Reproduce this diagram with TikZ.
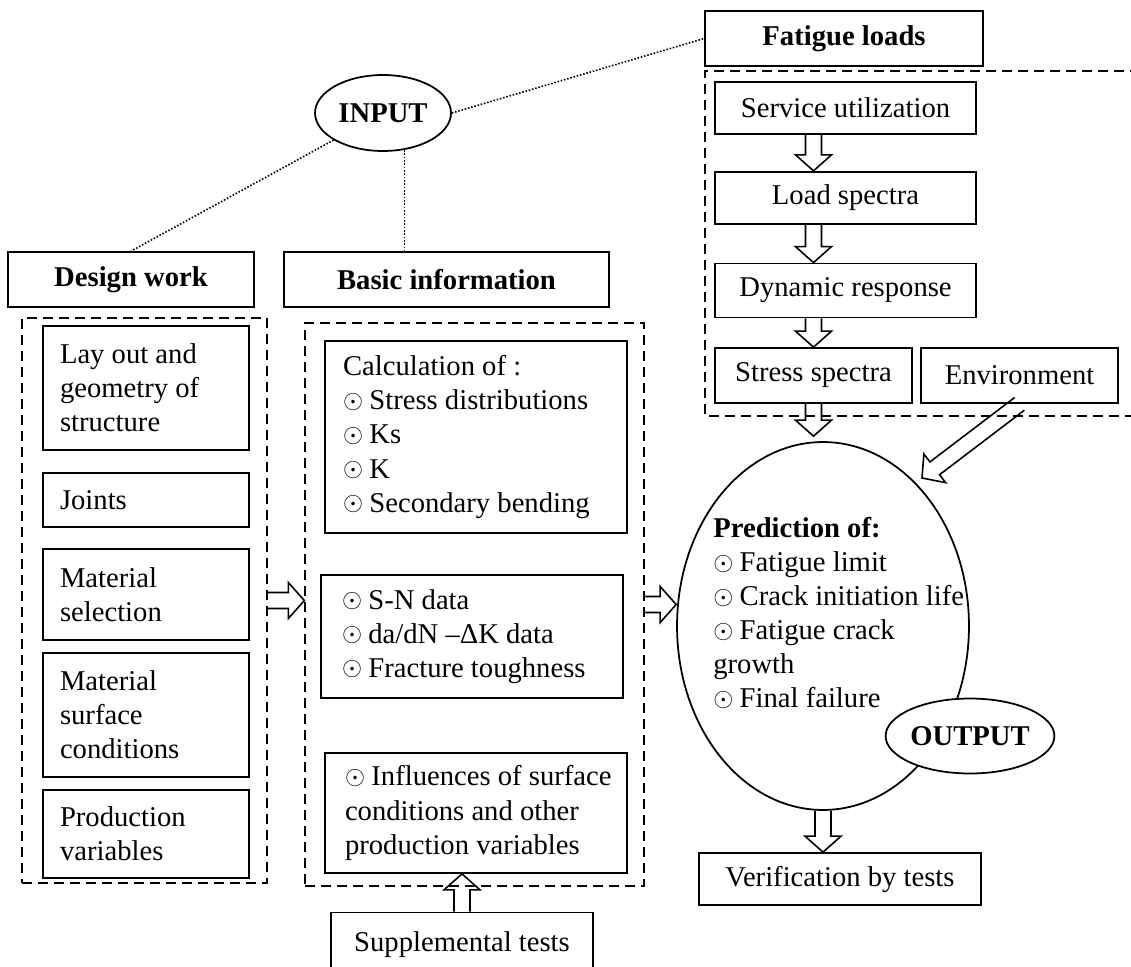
\documentclass[tikz,border=0pt]{standalone}
\usepackage{fontspec}
\setmainfont{Liberation Serif}
\usetikzlibrary{shapes.geometric,calc,positioning}

\newcommand\bul{\raisebox{0.12ex}{\scalebox{0.85}{$\odot$}}\hspace{0.22em}}
% hollow block arrow from #1 to #2
\newcommand\hollow[2]{%
  \coordinate (hA) at (#1);
  \coordinate (hB) at (#2);
  \coordinate (hH) at ($(hB)!0.32cm!(hA)$);
  \draw[line width=0.9pt, line join=miter] ($(hA)!0.16cm!90:(hB)$) -- ($(hH)!0.16cm!90:(hB)$)
    -- ($(hH)!0.36cm!90:(hB)$) -- (hB) -- ($(hH)!0.36cm!-90:(hB)$)
    -- ($(hH)!0.16cm!-90:(hB)$) -- ($(hA)!0.16cm!-90:(hB)$);}

\begin{document}
\begin{tikzpicture}[x=0.02cm, y=-0.02cm, font=\fontsize{16.3}{19.4}\selectfont,
  box/.style = {draw, line width=1pt},
  txt/.style = {box, align=flush left},
  head/.style = {box, font=\fontsize{16.3}{19.4}\selectfont\bfseries},
  frame/.style = {draw, line width=0.8pt, dash pattern=on 0.2cm off 0.12cm},
  oval/.style = {draw, ellipse, line width=1pt, inner sep=0pt},
  link/.style = {densely dotted, line width=0.9pt}]
\useasboundingbox (0,0) rectangle (1131,966);

% input side
\node[oval, font=\fontsize{16.3}{19.4}\selectfont\bfseries, minimum width=2.72cm, minimum height=1.52cm] (in) at (383,113) {INPUT};
\node[head, minimum width=4.92cm, minimum height=1.1cm] (dw) at (131,279.5) {Design work};
\node[head, minimum width=6.5cm, minimum height=1.1cm] (bi) at (446.5,279.5) {Basic information};
\node[head, minimum width=5.56cm, minimum height=1.1cm] (fl) at (844,38.5) {Fatigue loads};
\draw[link] (in) -- (dw.north);
\draw[link] (in.-60) -- (in.-60 |- bi.north);
\draw[link] (in.east) -- (fl.west);

% design work
\node[frame, minimum width=4.9cm, minimum height=11.3cm] (dwf) at (144.5,600.5) {};
\node[txt, minimum width=4.12cm, minimum height=2.48cm, text width=3.44cm] (lay) at (146,388) {Lay out and\\geometry of\\structure};
\node[txt, minimum width=4.12cm, minimum height=1.08cm, text width=3.44cm] (jt) at (146,500) {Joints};
\node[txt, minimum width=4.12cm, minimum height=1.82cm, text width=3.44cm] (ms) at (146,594.5) {Material\\selection};
\node[txt, minimum width=4.12cm, minimum height=2.48cm, text width=3.44cm] (msc) at (146,715) {Material\\surface\\conditions};
\node[txt, minimum width=4.12cm, minimum height=1.76cm, text width=3.44cm] (pv) at (146,834) {Production\\variables};

% basic information
\node[frame, minimum width=6.78cm, minimum height=11.26cm] (bif) at (474.5,604.5) {};
\node[txt, minimum width=6.04cm, minimum height=3.84cm, text width=5.32cm] (calc) at (476,437) {Calculation of :\\\bul Stress distributions\\\bul Ks\\\bul K\\\bul Secondary bending};
\node[txt, minimum width=6.04cm, minimum height=2.46cm, text width=5.2cm] (sn) at (472,636.5) {\bul S-N data\\\bul da/dN –ΔK data\\\bul Fracture toughness};
\node[txt, minimum width=6.04cm, minimum height=2.4cm, text width=5.24cm] (inf) at (476,813) {\mbox{\bul Influences of surface}\\conditions and other\\production variables};
\node[box, minimum width=5.24cm, minimum height=1.3cm] (sup) at (462,945) {Supplemental tests};

% fatigue loads
\draw[frame] (1140,71) -| (705,416) -- (1140,416);
\node[box, minimum width=5.22cm, minimum height=1.04cm] (sv) at (845.5,108) {Service utilization};
\node[box, minimum width=5.22cm, minimum height=1.04cm, below=0.72cm of sv] (ld) {Load spectra};
\node[box, minimum width=5.22cm, minimum height=1.08cm, below=0.76cm of ld] (dy) {Dynamic response};
\node[box, minimum width=3.94cm, minimum height=1.1cm] (st) at (813.5,375.5) {Stress spectra};
\node[box, minimum width=3.94cm, minimum height=1.1cm] (env) at (1019.5,375.5) {Environment};

% prediction
\node[oval, minimum width=5.84cm, minimum height=7.36cm] (pred) at (823,626) {};
\node[anchor=north west, inner sep=0pt, align=flush left] (ptx) at (713,517) {\textbf{Prediction of:}\\\bul Fatigue limit\\\bul Crack initiation life\\\bul Fatigue crack\\growth\\\bul Final failure};
\node[oval, fill=white, font=\fontsize{16.3}{19.4}\selectfont\bfseries, minimum width=3.1cm, minimum height=1.5cm] (out) at (970,736) {OUTPUT};
\node[box, minimum width=5.64cm, minimum height=1.04cm] (vt) at (840,879) {Verification by tests};
\coordinate (envtip) at (922,478);
\coordinate (ptop) at ($(st.south |- pred.north)+(0,-5)$);

% block arrows
\hollow{sv.south -| st.center}{ld.north -| st.center}
\hollow{ld.south -| st.center}{dy.north -| st.center}
\hollow{dy.south -| st.center}{st.north}
\hollow{st.south}{ptop}
\hollow{env.south}{envtip}
\hollow{dwf.east}{dwf.east -| bif.west}
\hollow{bif.east}{bif.east -| pred.west}
\hollow{pred.south}{pred.south |- vt.north}
\hollow{sup.north}{sup.north |- inf.south}
\end{tikzpicture}
\end{document}
